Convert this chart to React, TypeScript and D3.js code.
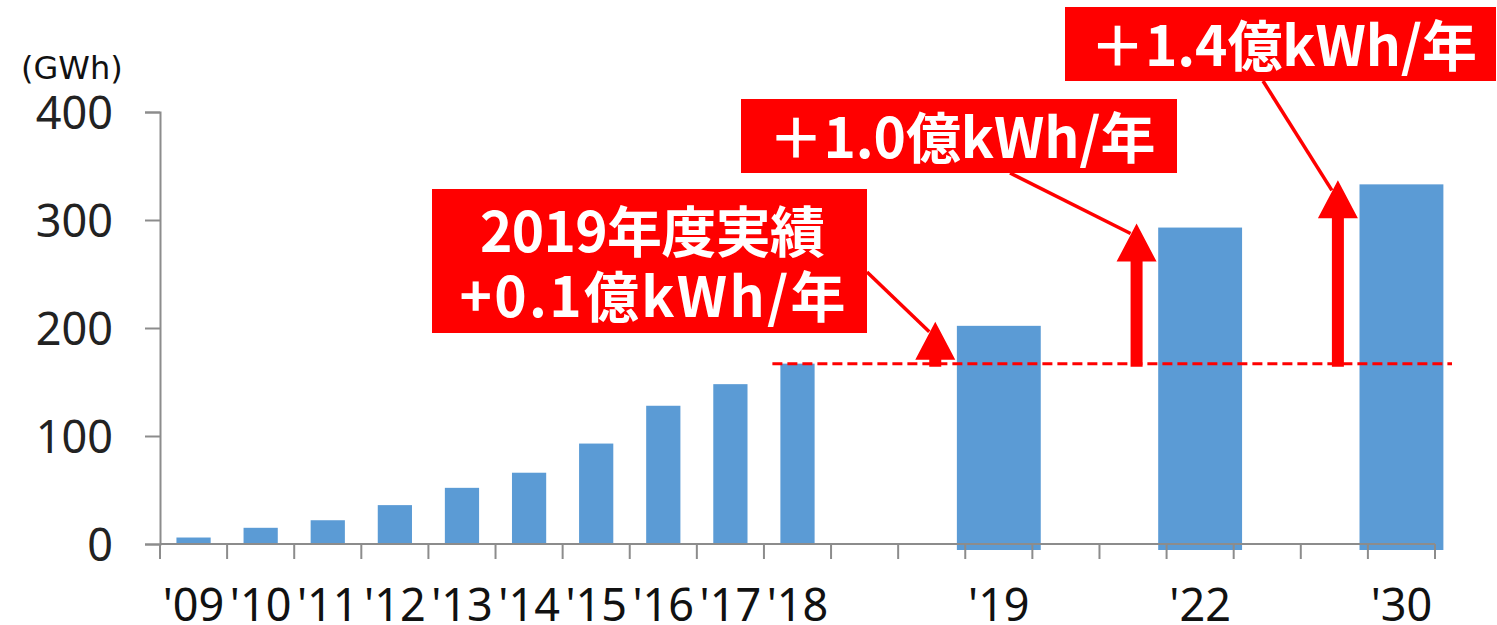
import { useEffect, useRef } from "react";
import * as d3 from "d3";

// slots on the category axis (empty ones are gaps between the outlook years)
const slots = ["'09", "'10", "'11", "'12", "'13", "'14", "'15", "'16", "'17", "'18", "", "", "'19", "", "", "'22", "", "", "'30"];

// results (GWh)
const actualYears = ["'09", "'10", "'11", "'12", "'13", "'14", "'15", "'16", "'17", "'18"];
const actualValues = [6, 15, 22, 36, 52, 66, 93, 128, 148, 167];

// outlook (GWh)
const outlookYears = ["'19", "'22", "'30"];
const outlookValues = [202, 293, 333];
const outlookNotes = [
  ["2019年度実績", "+0.1億kWh/年"],
  ["＋1.0億kWh/年"],
  ["＋1.4億kWh/年"],
];

const yTicks = [0, 100, 200, 300, 400];
const unitLabel = "(GWh)";

// callout boxes: box rect, leader start point, text line widths
const callouts = [
  { x: 432, y: 189, w: 435, h: 144, from: [867, 272], widths: [345, 386], base: 63, gap: 65 },
  { x: 741, y: 99, w: 436, h: 74, from: [1010, 173], widths: [387], base: 59, gap: 0 },
  { x: 1065, y: 7, w: 431, h: 74, from: [1263, 81], widths: [387], base: 59, gap: 0 },
];

const W = 1497;
const H = 625;
const BLUE = "#5B9BD5";
const RED = "#FF0000";
const AXIS = "#8c8c8c";
const TICK_FONT = "'Noto Sans', 'DejaVu Sans', sans-serif";
const UNIT_FONT = "'DejaVu Sans', Verdana, sans-serif";
const JP_FONT = "'Noto Sans CJK JP', 'Noto Sans', sans-serif";

export default function App() {
  const ref = useRef(null);

  useEffect(() => {
    const svg = d3.select(ref.current);
    svg.selectAll("*").remove();

    const x = d3.scaleBand().domain(d3.range(slots.length)).range([160, 1435]).padding(0);
    const y = d3.scaleLinear().domain([0, 400]).range([544, 112]);
    const step = x.step();
    const cx = (label) => x(slots.indexOf(label)) + step / 2;

    // result bars
    svg
      .append("g")
      .selectAll("rect")
      .data(actualValues)
      .join("rect")
      .attr("x", (d, i) => cx(actualYears[i]) - step * 0.255)
      .attr("width", step * 0.51)
      .attr("y", (d) => y(d))
      .attr("height", (d) => y(0) - y(d))
      .attr("fill", BLUE);

    // outlook bars (wider, hang a little under the axis)
    svg
      .append("g")
      .selectAll("rect")
      .data(outlookValues)
      .join("rect")
      .attr("x", (d, i) => cx(outlookYears[i]) - step * 0.625)
      .attr("width", step * 1.25)
      .attr("y", (d) => y(d))
      .attr("height", (d) => y(0) - y(d) + 6)
      .attr("fill", BLUE);

    // y axis
    const yAxis = svg
      .append("g")
      .attr("transform", "translate(160,0)")
      .call(d3.axisLeft(y).tickValues(yTicks).tickSize(15).tickPadding(32));
    yAxis.select(".domain").attr("stroke", AXIS).attr("stroke-width", 2);
    yAxis.selectAll(".tick line").attr("stroke", AXIS).attr("stroke-width", 2);
    yAxis
      .selectAll(".tick text")
      .attr("font-family", TICK_FONT)
      .attr("font-size", 45)
      .attr("fill", "#222")
      .attr("dy", "0.36em");

    // x axis: line, boundary ticks, labels
    const xAxis = svg.append("g");
    xAxis
      .append("line")
      .attr("x1", x.range()[0])
      .attr("x2", x.range()[1])
      .attr("y1", y(0))
      .attr("y2", y(0))
      .attr("stroke", AXIS)
      .attr("stroke-width", 2);
    xAxis
      .selectAll("line.tick")
      .data(d3.range(slots.length + 1))
      .join("line")
      .attr("class", "tick")
      .attr("x1", (i) => x.range()[0] + i * step)
      .attr("x2", (i) => x.range()[0] + i * step)
      .attr("y1", y(0))
      .attr("y2", y(0) + 15)
      .attr("stroke", AXIS)
      .attr("stroke-width", 2);
    xAxis
      .selectAll("text")
      .data(slots)
      .join("text")
      .attr("x", (d, i) => x(i) + step / 2)
      .attr("y", 621)
      .attr("text-anchor", "middle")
      .attr("font-family", TICK_FONT)
      .attr("font-size", 45)
      .attr("fill", "#111")
      .text((d) => d);

    svg
      .append("text")
      .attr("x", 21)
      .attr("y", 79)
      .attr("font-family", UNIT_FONT)
      .attr("font-size", 32)
      .attr("fill", "#111")
      .text(unitLabel);

    // dashed reference line at the last result
    const ref18 = actualValues[actualValues.length - 1];
    svg
      .append("line")
      .attr("x1", cx("'18") - step * 0.255 - 8)
      .attr("x2", x.range()[1] + 17)
      .attr("y1", y(ref18))
      .attr("y2", y(ref18))
      .attr("stroke", RED)
      .attr("stroke-width", 3)
      .attr("stroke-dasharray", "10,5");

    // arrows from reference up to outlook values
    const arrows = outlookValues.map((v, i) => {
      const ax = x(slots.indexOf(outlookYears[i])) - 30;
      return { ax, tip: y(v) - 4, base: y(ref18) + 3 };
    });
    svg
      .append("g")
      .selectAll("path")
      .data(arrows)
      .join("path")
      .attr("d", (a) => {
        const sw = 6;
        const hw = 20;
        const hl = 38;
        return `M${a.ax - sw},${a.base}V${a.tip + hl}H${a.ax - hw}L${a.ax},${a.tip}L${a.ax + hw},${a.tip + hl}H${a.ax + sw}V${a.base}Z`;
      })
      .attr("fill", RED);

    // callouts
    callouts.forEach((c, i) => {
      const a = arrows[i];
      svg
        .append("line")
        .attr("x1", c.from[0])
        .attr("y1", c.from[1])
        .attr("x2", a.ax - 6)
        .attr("y2", a.tip + 10)
        .attr("stroke", RED)
        .attr("stroke-width", 3.5);
      svg
        .append("rect")
        .attr("x", c.x)
        .attr("y", c.y)
        .attr("width", c.w)
        .attr("height", c.h)
        .attr("fill", RED);
      outlookNotes[i].forEach((line, j) => {
        svg
          .append("text")
          .attr("x", c.x + c.w / 2 + 3)
          .attr("y", c.y + c.base + j * c.gap)
          .attr("text-anchor", "middle")
          .attr("font-family", JP_FONT)
          .attr("font-weight", 700)
          .attr("font-size", 55)
          .attr("fill", "#fff")
          .attr("textLength", c.widths[j])
          .attr("lengthAdjust", "spacing")
          .text(line);
      });
    });
  }, []);

  return (
    <div style={{ position: "absolute", left: 0, top: 0, background: "#fff" }}>
      <svg ref={ref} width={W} height={H} style={{ display: "block" }} />
    </div>
  );
}
